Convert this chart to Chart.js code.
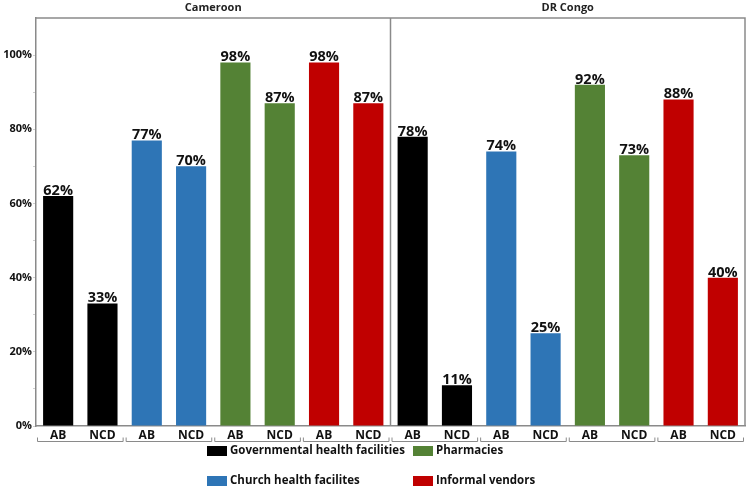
<!DOCTYPE html>
<html>
<head>
<meta charset="utf-8">
<script src="https://cdn.jsdelivr.net/npm/chart.js@4.4.0/dist/chart.umd.min.js"></script>
<style>
  html, body { margin: 0; padding: 0; background: #fff; }
  #wrap { width: 750px; height: 490px; }
</style>
</head>
<body>
<div id="wrap"><canvas id="c" width="750" height="490"></canvas></div>
<script>
// data
const countries = ["Cameroon", "DR Congo"];
const outlets = ["Governmental health facilities", "Church health facilites", "Pharmacies", "Informal vendors"];
const outletColors = ["#000000", "#2E75B6", "#548235", "#C00000"];
const conditions = ["AB", "NCD"];
const cameroonValues = [62, 33, 77, 70, 98, 87, 98, 87];
const drcValues = [78, 11, 74, 25, 92, 73, 88, 40];
const yTicks = [0, 20, 40, 60, 80, 100];

const FONT = "'Open Sans', 'DejaVu Sans', sans-serif";
const AXIS_GREY = "#8a8a8a";

// one category per bar: country x outlet x condition
const labels = [];
const colors = [];
countries.forEach(() => {
  outlets.forEach((o, i) => {
    conditions.forEach(c => { labels.push(c); colors.push(outletColors[i]); });
  });
});
const values = cameroonValues.concat(drcValues);

const decorPlugin = {
  id: "decor",
  afterDatasetsDraw(chart) {
    const ctx = chart.ctx;
    const meta = chart.getDatasetMeta(0);
    // value labels
    ctx.save();
    ctx.fillStyle = "#111";
    ctx.font = "bold 14.5px " + FONT;
    ctx.textAlign = "center";
    ctx.textBaseline = "bottom";
    meta.data.forEach((bar, i) => {
      ctx.fillText(values[i] + "%", bar.x, bar.y + 2);
    });
    ctx.restore();
  },
  afterDraw(chart) {
    const { ctx, chartArea: a, scales: { x } } = chart;
    const n = labels.length;
    const half = (x.getPixelForValue(1) - x.getPixelForValue(0)) / 2;
    const edge = i => x.getPixelForValue(i) - half; // left edge of slot i

    ctx.save();
    // frame: top, right, panel divider
    ctx.strokeStyle = AXIS_GREY;
    ctx.lineWidth = 1.5;
    ctx.beginPath();
    ctx.moveTo(a.left, a.top);
    ctx.lineTo(a.right, a.top);
    ctx.lineTo(a.right, a.bottom);
    const mid = edge(n / 2);
    ctx.moveTo(mid, a.top);
    ctx.lineTo(mid, a.bottom);
    ctx.stroke();

    // panel titles
    ctx.fillStyle = "#222";
    ctx.font = "bold 11px " + FONT;
    ctx.textAlign = "center";
    ctx.textBaseline = "middle";
    ctx.fillText(countries[0], (a.left + mid) / 2, 8);
    ctx.fillText(countries[1], (mid + a.right) / 2, 8);

    // brackets under each outlet pair
    ctx.lineWidth = 1;
    const by = a.bottom + 15.5;
    for (let g = 0; g < n; g += 2) {
      const l = edge(g) + 1.5, r = edge(g + 2) - 1.5;
      ctx.beginPath();
      ctx.moveTo(l, by - 4);
      ctx.lineTo(l, by);
      ctx.lineTo(r, by);
      ctx.lineTo(r, by - 4);
      ctx.stroke();
    }

    // legend, 2 columns x 2 rows
    const cols = [207, 413];
    const rows = [451, 481];
    ctx.font = "bold 11.5px " + FONT;
    ctx.textAlign = "left";
    outlets.forEach((name, i) => {
      const cx = cols[Math.floor(i / 2)];
      const cy = rows[i % 2];
      ctx.fillStyle = outletColors[i];
      ctx.fillRect(cx, cy - 5, 20, 10);
      ctx.fillStyle = "#111";
      ctx.fillText(name, cx + 23, cy);
    });
    ctx.restore();
  }
};

new Chart(document.getElementById("c"), {
  type: "bar",
  data: {
    labels,
    datasets: [{
      data: values,
      backgroundColor: colors,
      borderWidth: 0,
      barPercentage: 0.68,
      categoryPercentage: 1
    }]
  },
  options: {
    responsive: false,
    animation: false,
    layout: { padding: { top: 18, right: 5, left: 0, bottom: 0 } },
    plugins: { legend: { display: false }, tooltip: { enabled: false } },
    scales: {
      x: {
        grid: { display: false, drawTicks: false },
        border: { display: true, color: AXIS_GREY, width: 1.5 },
        ticks: { color: "#111", font: { family: FONT, size: 12, weight: "bold" }, padding: 2, maxRotation: 0, autoSkip: false },
        afterFit(axis) { axis.height = 64; }
      },
      y: {
        min: 0,
        max: 110,
        grid: { display: true, drawOnChartArea: false, drawTicks: true, tickLength: 3, color: "#cfcfcf" },
        border: { display: true, color: AXIS_GREY, width: 1.5 },
        ticks: {
          stepSize: 10,
          color: "#111",
          padding: 1,
          font: { family: FONT, size: 11, weight: "bold" },
          callback: v => yTicks.includes(v) ? v + "%" : ""
        },
        afterBuildTicks(axis) { axis.ticks = axis.ticks.filter(t => t.value <= 100); },
        afterFit(axis) { axis.width = 36; }
      }
    }
  },
  plugins: [decorPlugin]
});
</script>
</body>
</html>
